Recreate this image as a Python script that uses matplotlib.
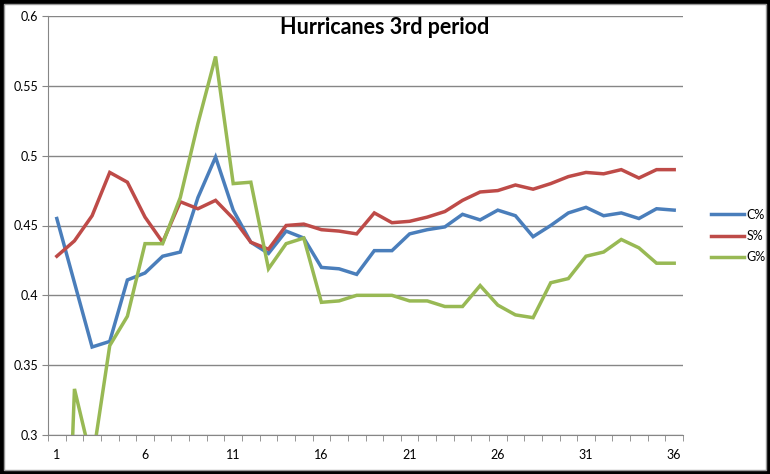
import matplotlib
matplotlib.use("Agg")
import matplotlib.pyplot as plt
from matplotlib.patches import Rectangle

# game number 1..36
games = list(range(1, 37))

c_pct = [0.455, 0.409, 0.363, 0.367, 0.411, 0.416, 0.428, 0.431, 0.470, 0.499,
         0.461, 0.438, 0.430, 0.446, 0.441, 0.420, 0.419, 0.415, 0.432, 0.432,
         0.444, 0.447, 0.449, 0.458, 0.454, 0.461, 0.457, 0.442, 0.450, 0.459,
         0.463, 0.457, 0.459, 0.455, 0.462, 0.461]
s_pct = [0.428, 0.439, 0.457, 0.488, 0.481, 0.456, 0.438, 0.467, 0.462, 0.468,
         0.455, 0.438, 0.433, 0.450, 0.451, 0.447, 0.446, 0.444, 0.459, 0.452,
         0.453, 0.456, 0.460, 0.468, 0.474, 0.475, 0.479, 0.476, 0.480, 0.485,
         0.488, 0.487, 0.490, 0.484, 0.490, 0.490]
g_pct = [0.0, 0.333, 0.280, 0.364, 0.385, 0.437, 0.437, 0.470, 0.523, 0.571,
         0.480, 0.481, 0.419, 0.437, 0.441, 0.395, 0.396, 0.400, 0.400, 0.400,
         0.396, 0.396, 0.392, 0.392, 0.407, 0.393, 0.386, 0.384, 0.409, 0.412,
         0.428, 0.431, 0.440, 0.434, 0.423, 0.423]

series = [("C%", c_pct, "#4A7EBB"), ("S%", s_pct, "#BE4B48"), ("G%", g_pct, "#98B954")]

yticks = [0.3, 0.35, 0.4, 0.45, 0.5, 0.55, 0.6]
ytick_labels = ["0.3", "0.35", "0.4", "0.45", "0.5", "0.55", "0.6"]
xtick_labels = [1, 6, 11, 16, 21, 26, 31, 36]

plt.rcParams['font.family'] = ['Lato', 'DejaVu Sans']

fig = plt.figure(figsize=(7.7, 4.74), dpi=100)
ax = fig.add_axes([48/770, 1 - 435/474, 635/770, 419/474])

for name, vals, col in series:
    ax.plot(games, vals, color=col, lw=2.5, label=name, solid_joinstyle="miter")

ax.set_xlim(0.5, 36.5)
ax.set_ylim(0.3, 0.6)
ax.set_yticks(yticks)
ax.set_yticklabels(ytick_labels)
ax.set_xticks(xtick_labels)
ax.set_xticks([i + 0.5 for i in range(0, 37)], minor=True)
ax.tick_params(axis="x", which="major", length=0, pad=10, labelsize=9)
ax.tick_params(axis="x", which="minor", length=4, color="#868686", direction="out")
ax.tick_params(axis="y", length=4, color="#868686", labelsize=9, pad=3)
ax.grid(axis="y", color="#868686", lw=1)
ax.set_axisbelow(True)
for sp in ["top", "right"]:
    ax.spines[sp].set_visible(False)
for sp in ["left", "bottom"]:
    ax.spines[sp].set_color("#868686")

fig.text(385/770, 1 - 27/474, "Hurricanes 3rd period", ha="center", va="center",
         fontsize=15.5, fontweight="bold")

fig.legend(loc="center left", bbox_to_anchor=(700/770, 1 - 236/474), frameon=False,
           fontsize=9, handlelength=2.6, handletextpad=0.2, labelspacing=0.75)

# frame round the picture
fig.patches.append(Rectangle((0, 0), 1, 1, transform=fig.transFigure, fill=False,
                             lw=5, edgecolor="black"))
fig.patches.append(Rectangle((4/770, 4/474), 762/770, 466/474, transform=fig.transFigure,
                             fill=False, lw=1, edgecolor="#999999"))

fig.savefig("out.png", dpi=100)
